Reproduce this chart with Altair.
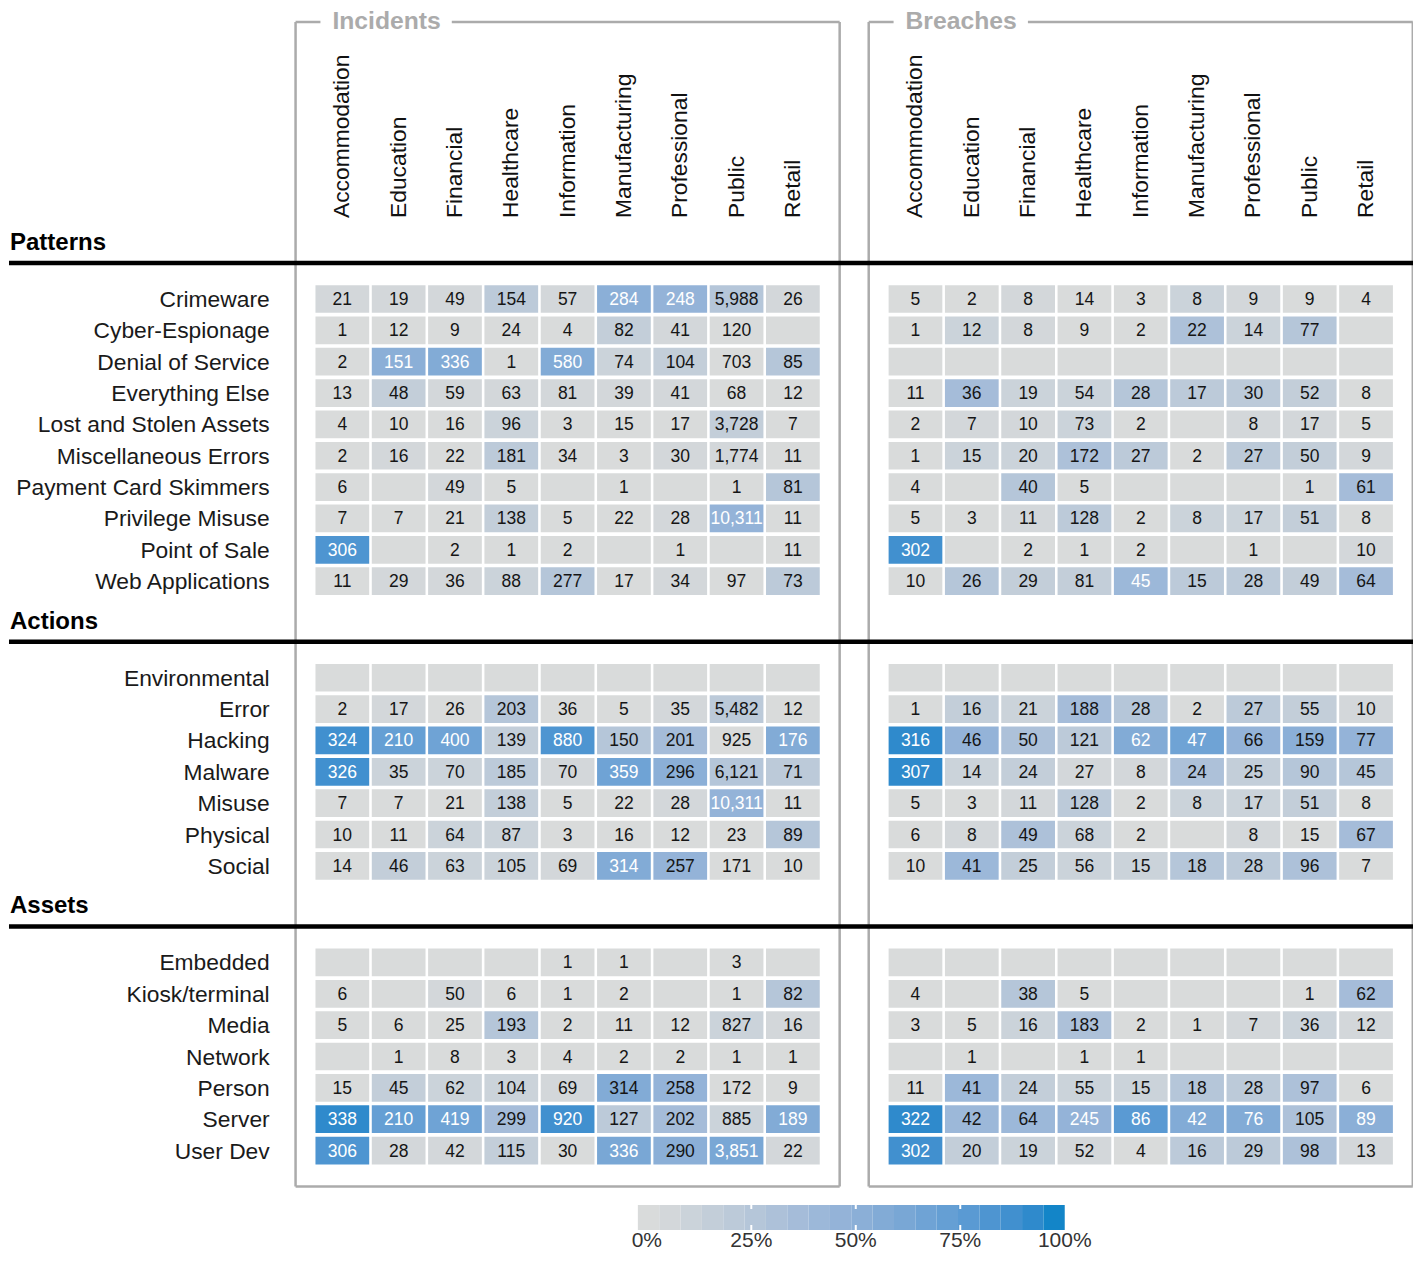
import altair as alt
import pandas as pd

# ---------------- data ----------------
INDUSTRIES = ["Accommodation", "Education", "Financial", "Healthcare", "Information",
              "Manufacturing", "Professional", "Public", "Retail"]
PATTERNS = ["Crimeware", "Cyber-Espionage", "Denial of Service", "Everything Else",
            "Lost and Stolen Assets", "Miscellaneous Errors", "Payment Card Skimmers",
            "Privilege Misuse", "Point of Sale", "Web Applications"]
ACTIONS = ["Environmental", "Error", "Hacking", "Malware", "Misuse", "Physical", "Social"]
ASSETS = ["Embedded", "Kiosk/terminal", "Media", "Network", "Person", "Server", "User Dev"]
N = None

INC_PATTERNS = [
    [21, 19, 49, 154, 57, 284, 248, 5988, 26],
    [1, 12, 9, 24, 4, 82, 41, 120, N],
    [2, 151, 336, 1, 580, 74, 104, 703, 85],
    [13, 48, 59, 63, 81, 39, 41, 68, 12],
    [4, 10, 16, 96, 3, 15, 17, 3728, 7],
    [2, 16, 22, 181, 34, 3, 30, 1774, 11],
    [6, N, 49, 5, N, 1, N, 1, 81],
    [7, 7, 21, 138, 5, 22, 28, 10311, 11],
    [306, N, 2, 1, 2, N, 1, N, 11],
    [11, 29, 36, 88, 277, 17, 34, 97, 73],
]
INC_ACTIONS = [
    [N, N, N, N, N, N, N, N, N],
    [2, 17, 26, 203, 36, 5, 35, 5482, 12],
    [324, 210, 400, 139, 880, 150, 201, 925, 176],
    [326, 35, 70, 185, 70, 359, 296, 6121, 71],
    [7, 7, 21, 138, 5, 22, 28, 10311, 11],
    [10, 11, 64, 87, 3, 16, 12, 23, 89],
    [14, 46, 63, 105, 69, 314, 257, 171, 10],
]
INC_ASSETS = [
    [N, N, N, N, 1, 1, N, 3, N],
    [6, N, 50, 6, 1, 2, N, 1, 82],
    [5, 6, 25, 193, 2, 11, 12, 827, 16],
    [N, 1, 8, 3, 4, 2, 2, 1, 1],
    [15, 45, 62, 104, 69, 314, 258, 172, 9],
    [338, 210, 419, 299, 920, 127, 202, 885, 189],
    [306, 28, 42, 115, 30, 336, 290, 3851, 22],
]
BRE_PATTERNS = [
    [5, 2, 8, 14, 3, 8, 9, 9, 4],
    [1, 12, 8, 9, 2, 22, 14, 77, N],
    [N, N, N, N, N, N, N, N, N],
    [11, 36, 19, 54, 28, 17, 30, 52, 8],
    [2, 7, 10, 73, 2, N, 8, 17, 5],
    [1, 15, 20, 172, 27, 2, 27, 50, 9],
    [4, N, 40, 5, N, N, N, 1, 61],
    [5, 3, 11, 128, 2, 8, 17, 51, 8],
    [302, N, 2, 1, 2, N, 1, N, 10],
    [10, 26, 29, 81, 45, 15, 28, 49, 64],
]
BRE_ACTIONS = [
    [N, N, N, N, N, N, N, N, N],
    [1, 16, 21, 188, 28, 2, 27, 55, 10],
    [316, 46, 50, 121, 62, 47, 66, 159, 77],
    [307, 14, 24, 27, 8, 24, 25, 90, 45],
    [5, 3, 11, 128, 2, 8, 17, 51, 8],
    [6, 8, 49, 68, 2, N, 8, 15, 67],
    [10, 41, 25, 56, 15, 18, 28, 96, 7],
]
BRE_ASSETS = [
    [N, N, N, N, N, N, N, N, N],
    [4, N, 38, 5, N, N, N, 1, 62],
    [3, 5, 16, 183, 2, 1, 7, 36, 12],
    [N, 1, N, 1, 1, N, N, N, N],
    [11, 41, 24, 55, 15, 18, 28, 97, 6],
    [322, 42, 64, 245, 86, 42, 76, 105, 89],
    [302, 20, 19, 52, 4, 16, 29, 98, 13],
]
# incidents with a known asset, per industry (base of the Assets shares)
INC_ASSET_BASE = [373, 292, 599, 751, 1043, 537, 544, 6000, 317]

LEGEND_TICKS = [0, 0.25, 0.5, 0.75, 1.0]
LEGEND_LABELS = ["0%", "25%", "50%", "75%", "100%"]

# cells whose numbers are printed in white
WHITE_LABELS = [
    ("Incidents", "Crimeware", "Manufacturing"), ("Incidents", "Crimeware", "Professional"),
    ("Incidents", "Denial of Service", "Education"), ("Incidents", "Denial of Service", "Financial"),
    ("Incidents", "Denial of Service", "Information"), ("Incidents", "Privilege Misuse", "Public"),
    ("Incidents", "Point of Sale", "Accommodation"),
    ("Incidents", "Hacking", "Accommodation"), ("Incidents", "Hacking", "Education"),
    ("Incidents", "Hacking", "Financial"), ("Incidents", "Hacking", "Information"),
    ("Incidents", "Hacking", "Retail"), ("Incidents", "Malware", "Accommodation"),
    ("Incidents", "Malware", "Manufacturing"), ("Incidents", "Misuse", "Public"),
    ("Incidents", "Social", "Manufacturing"),
    ("Incidents", "Server", "Accommodation"), ("Incidents", "Server", "Education"),
    ("Incidents", "Server", "Financial"), ("Incidents", "Server", "Information"),
    ("Incidents", "Server", "Retail"), ("Incidents", "User Dev", "Accommodation"),
    ("Incidents", "User Dev", "Manufacturing"), ("Incidents", "User Dev", "Public"),
    ("Breaches", "Point of Sale", "Accommodation"), ("Breaches", "Web Applications", "Information"),
    ("Breaches", "Hacking", "Accommodation"), ("Breaches", "Hacking", "Information"),
    ("Breaches", "Hacking", "Manufacturing"), ("Breaches", "Malware", "Accommodation"),
    ("Breaches", "Server", "Accommodation"), ("Breaches", "Server", "Healthcare"),
    ("Breaches", "Server", "Information"), ("Breaches", "Server", "Manufacturing"),
    ("Breaches", "Server", "Professional"), ("Breaches", "Server", "Retail"),
    ("Breaches", "User Dev", "Accommodation"),
]

# ---------------- layout / style ----------------
W, H = 1405, 1248
X_LO, X_HI = 6, 1418          # layout units spanned by the plot width
Y_LO, Y_HI = 8, 8 + H
FONT = "Liberation Sans"
GRAY = "#ababab"
PALETTE = ["#d9dbdb", "#d3d7da", "#cbd3da", "#c3ced9", "#bccad9", "#b5c6d9", "#adc1d9",
           "#a5bcd9", "#9cb8d9", "#94b3d8", "#8bafd7", "#82abd6", "#79a7d5", "#6fa3d5",
           "#659fd4", "#5a9ad3", "#4e95d1", "#4190cf", "#2f8acc", "#1385c8"]
PANEL_X0 = {"Incidents": 342, "Breaches": 918}
PITCH_X, CELL_W = 56.6, 54
ROW_PITCH, CELL_H = 31.35, 27.7
FIRST_ROW_Y, SECTION_GAP = 299, 96.6
RULE_OFF, HEAD_OFF = 36, 20
LABEL_RIGHT, COLHEAD_Y = 269, 218
FRAME_TOP, FRAME_PAD = 22, 47
LEFT, RIGHT = 7, 1418
TITLE_W = {"Incidents": 108, "Breaches": 111}
LEG_X0, LEG_STEP, LEG_Y0, LEG_Y1 = 639, 21.45, 1205, 1230
LEG_ZERO, LEG_SPAN, LEG_LABEL_Y = 648, 420, 1241

XS = alt.Scale(domain=[X_LO, X_HI], nice=False, zero=False)
YS = alt.Scale(domain=[Y_LO, Y_HI], nice=False, zero=False, reverse=True)


def X(f):
    return alt.X(f, type="quantitative", scale=XS, axis=None)


def Y(f):
    return alt.Y(f, type="quantitative", scale=YS, axis=None)


sections = [
    ("Patterns", PATTERNS, {"Incidents": INC_PATTERNS, "Breaches": BRE_PATTERNS}),
    ("Actions", ACTIONS, {"Incidents": INC_ACTIONS, "Breaches": BRE_ACTIONS}),
    ("Assets", ASSETS, {"Incidents": INC_ASSETS, "Breaches": BRE_ASSETS}),
]


def col_sums(m):
    return [sum(v or 0 for v in col) for col in zip(*m)]


bases = {
    ("Incidents", "Patterns"): col_sums(INC_PATTERNS),
    ("Incidents", "Actions"): col_sums(INC_PATTERNS),
    ("Incidents", "Assets"): INC_ASSET_BASE,
    ("Breaches", "Patterns"): col_sums(BRE_PATTERNS),
    ("Breaches", "Actions"): col_sums(BRE_PATTERNS),
    ("Breaches", "Assets"): col_sums(BRE_PATTERNS),
}
white = set(WHITE_LABELS)

cells, rowlabels, secheads, blackrules = [], [], [], []
y = FIRST_ROW_Y
last_y = y
for sec, rows, mats in sections:
    first = y
    blackrules.append({"x": LEFT, "x2": RIGHT, "y": first - RULE_OFF})
    secheads.append({"x": LEFT + 1, "y": first - RULE_OFF - HEAD_OFF, "t": sec})
    for r, rname in enumerate(rows):
        yc = first + r * ROW_PITCH
        last_y = yc
        rowlabels.append({"x": LABEL_RIGHT, "y": yc, "t": rname})
        for panel, mat in mats.items():
            base = bases[(panel, sec)]
            for c, ind in enumerate(INDUSTRIES):
                v = mat[r][c]
                xc = PANEL_X0[panel] + c * PITCH_X
                pct = 0.0 if v is None else min(v / base[c], 0.999)
                cells.append({
                    "panel": panel, "row": rname, "industry": ind,
                    "x1": xc - CELL_W / 2, "x2": xc + CELL_W / 2,
                    "y1": yc - CELL_H / 2, "y2": yc + CELL_H / 2,
                    "xc": xc, "yc": yc, "pct": pct,
                    "label": "" if v is None else f"{v:,}",
                    "tc": "#ffffff" if (panel, rname, ind) in white else "#151515",
                })
    y = yc + SECTION_GAP

cells_df = pd.DataFrame(cells)
labels_df = cells_df[cells_df["label"] != ""]

colheads = []
frames = []
titles = []
bottom = last_y + RULE_OFF
for panel, x0 in PANEL_X0.items():
    for c, ind in enumerate(INDUSTRIES):
        colheads.append({"x": x0 + c * PITCH_X, "y": COLHEAD_Y, "t": ind})
    fl = x0 - FRAME_PAD
    fr = x0 + 8 * PITCH_X + FRAME_PAD
    tx = fl + 37
    titles.append({"x": tx, "y": FRAME_TOP, "t": panel})
    frames += [
        {"x": fl, "x2": fl, "y": FRAME_TOP, "y2": bottom},
        {"x": fr, "x2": fr, "y": FRAME_TOP, "y2": bottom},
        {"x": fl, "x2": fr, "y": bottom, "y2": bottom},
        {"x": fl, "x2": tx - 12, "y": FRAME_TOP, "y2": FRAME_TOP},
        {"x": tx + TITLE_W[panel] + 12, "x2": fr, "y": FRAME_TOP, "y2": FRAME_TOP},
    ]

legend_steps = pd.DataFrame([
    {"x1": LEG_X0 + k * LEG_STEP, "x2": LEG_X0 + (k + 1) * LEG_STEP,
     "y1": LEG_Y0, "y2": LEG_Y1, "pct": (k + 0.5) / len(PALETTE)}
    for k in range(len(PALETTE))
])
legend_labels = pd.DataFrame([
    {"x": LEG_ZERO + p * LEG_SPAN, "y": LEG_LABEL_Y, "t": t}
    for p, t in zip(LEGEND_TICKS, LEGEND_LABELS)
])
legend_ticks = pd.DataFrame(
    [{"x": LEG_ZERO + p * LEG_SPAN, "y": LEG_Y0, "y2": LEG_Y0 + 4} for p in LEGEND_TICKS[1:-1]] +
    [{"x": LEG_ZERO + p * LEG_SPAN, "y": LEG_Y1 - 5, "y2": LEG_Y1} for p in LEGEND_TICKS[1:-1]]
)

CSCALE = alt.Scale(type="quantize", domain=[0, 1], range=PALETTE, nice=False, zero=False)

cell_layer = alt.Chart(cells_df).mark_rect().encode(
    x=X("x1"), x2="x2", y=Y("y1"), y2="y2",
    color=alt.Color("pct:Q", scale=CSCALE, legend=None),
)
cell_text = alt.Chart(labels_df).mark_text(
    font=FONT, fontSize=17.5, align="center", baseline="middle", dy=1
).encode(x=X("xc"), y=Y("yc"), text="label:N", color=alt.Color("tc:N", scale=None))

frame_layer = alt.Chart(pd.DataFrame(frames)).mark_rule(color=GRAY, strokeWidth=2.5).encode(
    x=X("x"), x2="x2", y=Y("y"), y2="y2")
rule_layer = alt.Chart(pd.DataFrame(blackrules)).mark_rule(color="#000000", strokeWidth=4.5).encode(
    x=X("x"), x2="x2", y=Y("y"))

row_text = alt.Chart(pd.DataFrame(rowlabels)).mark_text(
    font=FONT, fontSize=22.8, align="right", baseline="middle", color="#1a1a1a", dy=1
).encode(x=X("x"), y=Y("y"), text="t:N")
col_text = alt.Chart(pd.DataFrame(colheads)).mark_text(
    font=FONT, fontSize=22.8, align="left", baseline="middle", angle=270, color="#111111"
).encode(x=X("x"), y=Y("y"), text="t:N")
sec_text = alt.Chart(pd.DataFrame(secheads)).mark_text(
    font=FONT, fontSize=24, fontWeight="bold", align="left", baseline="middle", color="#000000"
).encode(x=X("x"), y=Y("y"), text="t:N")
title_text = alt.Chart(pd.DataFrame(titles)).mark_text(
    font=FONT, fontSize=24.7, fontWeight="bold", align="left", baseline="middle", color=GRAY
).encode(x=X("x"), y=Y("y"), text="t:N")

leg_rects = alt.Chart(legend_steps).mark_rect().encode(
    x=X("x1"), x2="x2", y=Y("y1"), y2="y2",
    color=alt.Color("pct:Q", scale=CSCALE, legend=None),
)
leg_ticks = alt.Chart(legend_ticks).mark_rule(color="#ffffff", strokeWidth=2).encode(
    x=X("x"), y=Y("y"), y2="y2")
leg_text = alt.Chart(legend_labels).mark_text(
    font=FONT, fontSize=21, align="center", baseline="middle", color="#333333"
).encode(x=X("x"), y=Y("y"), text="t:N")

chart = alt.layer(
    cell_layer, cell_text, frame_layer, rule_layer, row_text, col_text, sec_text,
    title_text, leg_rects, leg_ticks, leg_text
).resolve_scale(color="independent").properties(
    width=W, height=H, padding=0, autosize=alt.AutoSizeParams(type="none")
).configure_view(strokeWidth=0)

chart.save("out.html", embed_options={"renderer": "svg", "actions": False})
